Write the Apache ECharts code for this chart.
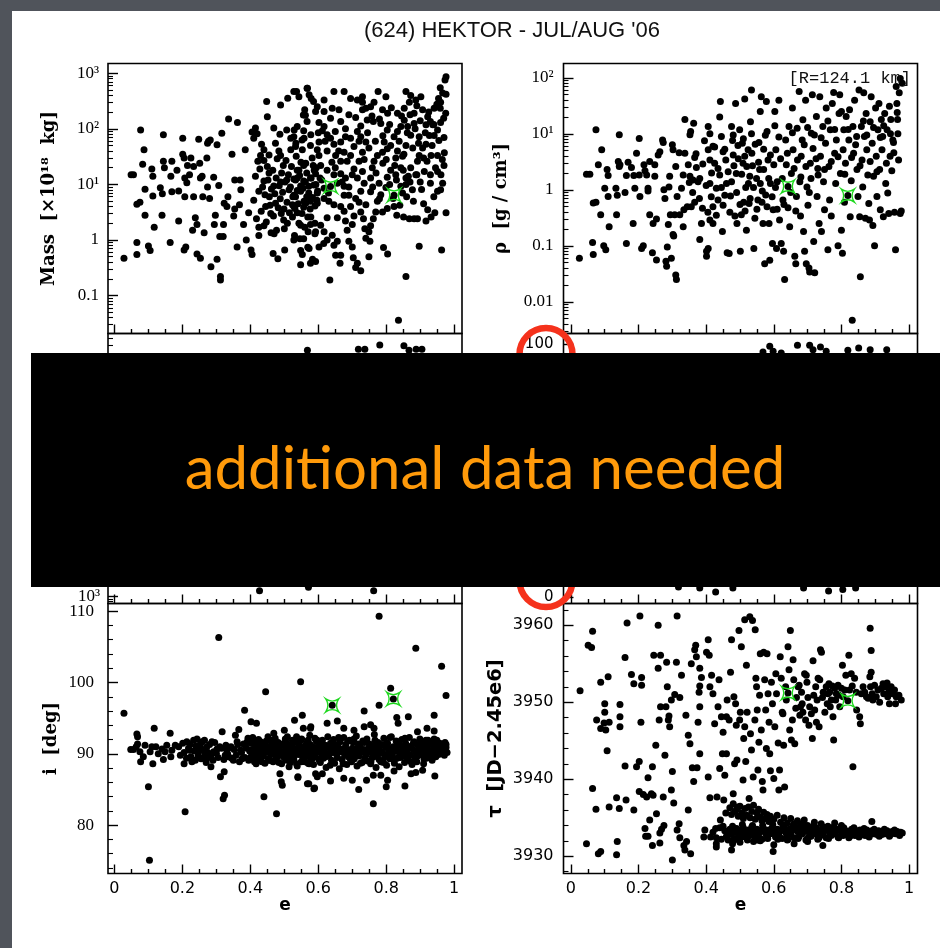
<!DOCTYPE html>
<html>
<head>
<meta charset="utf-8">
<title>(624) HEKTOR</title>
<style>
html,body{margin:0;padding:0;background:#50545b;}
#chart{width:940px;height:948px;}
</style>
<script src="https://cdn.jsdelivr.net/npm/echarts@6/dist/echarts.min.js"></script>
</head>
<body>
<div id="chart"></div>
<script>
// x ticks (shared by every panel)
const eMajor=[0,0.2,0.4,0.6,0.8,1];
const eMinor=[0.05,0.1,0.15,0.25,0.3,0.35,0.45,0.5,0.55,0.65,0.7,0.75,0.85,0.9,0.95];

// y ticks
const massTickExp=[-1,0,1,2,3];
const massTickText=['0.1','1','10¹','10²','10³'];
const rhoTickExp=[-2,-1,0,1,2];
const rhoTickText=['0.01','0.1','1','10¹','10²'];
const midLTickExp=[3,4,5,6,7];
const midLTickText=['10³','10⁴','10⁵','10⁶','10⁷'];
const midRTicks=[0,20,40,60,80,100];
const incTicks=[80,90,100,110];
const incMinor=[74,76,78,82,84,86,88,92,94,96,98,102,104,106,108];
const tauTicks=[3930,3940,3950,3960];
const tauMinor=[3928,3932,3934,3936,3938,3942,3944,3946,3948,3952,3954,3956,3958,3962];

// [e, mass x1e18 kg]
const massPts=[
[0.028,0.47],[0.049,15],[0.056,15],[0.066,4.4],[0.075,4.8],[0.066,0.9],[0.066,0.55],[0.077,95],[0.087,42],[0.083,23],[0.09,8.2],[0.09,2.8],[0.1,0.78],[0.105,0.65],[0.11,19],[0.113,14],[0.113,6.2],[0.117,1.7],[0.135,8.7],[0.141,6.8],[0.144,26],[0.147,20],[0.144,78],[0.14,2.8],[0.164,0.9],[0.166,14],[0.169,26],[0.169,7.4],[0.189,7.6],[0.189,2.2],[0.184,18],[0.201,68],[0.201,35],[0.205,30],[0.205,0.66],[0.21,0.75],[0.207,13],[0.213,10.7],[0.207,6],[0.215,22],[0.221,15],[0.225,30],[0.233,21],[0.233,6],[0.238,2.5],[0.23,1.5],[0.243,1.9],[0.248,65],[0.251,24],[0.253,13],[0.243,0.56],[0.253,0.47],[0.258,14],[0.26,6],[0.264,1.35],[0.272,30],[0.277,60],[0.274,9],[0.274,55],[0.282,63],[0.28,5.6],[0.292,13.5],[0.284,0.33],[0.297,2.8],[0.294,1.9],[0.302,0.45],[0.302,52],[0.307,9.6],[0.31,1.15],[0.312,0.22],[0.312,0.19],[0.32,1.15],[0.316,83],[0.321,1.9],[0.323,4.6],[0.331,4],[0.336,150],[0.334,6],[0.346,35],[0.351,2.7],[0.354,3.6],[0.362,130],[0.354,12],[0.361,0.75],[0.37,12],[0.368,4.3],[0.372,8],[0.38,1.9],[0.385,42],[0.388,1],[0.395,3.1],[0.405,88],[0.402,0.66],[0.405,0.55],[0.41,68],[0.415,104],[0.42,82],[0.422,26],[0.425,1.7],[0.425,1.2],[0.43,33],[0.433,53],[0.44,42],[0.44,11.5],[0.445,4],[0.45,165],[0.448,310],[0.45,21],[0.455,16],[0.456,6],[0.46,3],[0.461,1.35],[0.467,0.57],[0.469,9.4],[0.469,104],[0.474,55],[0.474,4.6],[0.477,1.5],[0.481,0.46],[0.489,270],[0.487,80],[0.484,40],[0.489,33],[0.489,11],[0.491,3],[0.497,22],[0.499,3.6],[0.501,0.66],[0.507,95],[0.507,12],[0.509,2],[0.51,355],[0.514,8],[0.519,68],[0.519,42],[0.524,4.3],[0.524,2.6],[0.529,95],[0.534,55],[0.533,6],[0.536,470],[0.538,13],[0.543,18],[0.543,2],[0.546,1.05],[0.548,9.4],[0.553,42],[0.553,0.55],[0.556,178],[0.56,220],[0.558,68],[0.563,24],[0.563,4.6],[0.568,540],[0.566,6],[0.57,1.4],[0.573,410],[0.573,0.7],[0.578,2.6],[0.578,78],[0.583,0.45],[0.586,310],[0.588,18],[0.59,2],[0.593,10],[0.596,5.2],[0.597,42],[0.602,0.75],[0.602,130],[0.605,13],
[0.41,5.2],[0.415,14],[0.418,2.4],[0.425,7.5],[0.428,19],[0.432,3.3],[0.436,9],[0.44,27],[0.443,6.5],[0.447,2.1],[0.452,12],[0.455,34],[0.458,4.2],[0.462,8.3],[0.466,18],[0.468,2.7],[0.472,6.8],[0.476,13],[0.479,29],[0.482,3.8],[0.485,9.5],[0.488,5.5],[0.492,16],[0.495,7.2],[0.498,2.3],[0.502,11],[0.505,27],[0.508,4.8],[0.512,15],[0.515,3.1],[0.518,9],[0.521,21],[0.525,6],[0.528,12.5],[0.531,3.7],[0.535,32],[0.538,7.8],[0.541,4.5],[0.545,14.5],[0.549,25],[0.552,3],[0.555,8.5],[0.558,5],[0.562,11],[0.566,16],[0.569,2.6],[0.572,7],[0.576,3.6],[0.579,13],[0.583,5.8],[0.587,9.8],[0.59,4.1],[0.594,20],[0.598,7.6],[0.44,1.8],[0.47,1.3],[0.5,1.6],[0.53,1.2],[0.56,1.7],[0.59,1.3],
[0.976,870],[0.973,760],[0.959,550],[0.966,440],[0.976,420],[0.954,350],[0.949,276],[0.941,235],[0.959,235],[0.969,155],[0.922,165],[0.93,135],[0.937,118],[0.917,118],[0.951,95],[0.941,76],[0.927,76],[0.917,53],[0.907,45],[0.897,33],[0.932,33],[0.951,33],[0.971,37],[0.92,26],[0.951,17],[0.961,15],[0.966,10.5],[0.951,7.5],[0.93,10.5],[0.912,17],[0.904,8.1],[0.892,26],[0.887,15],[0.872,20],[0.865,14],[0.858,10],[0.877,8],[0.922,3.5],[0.943,3.1],[0.976,3.1],[0.932,2.6],[0.917,2.2],[0.897,0.77],[0.963,0.66],[0.858,0.22],[0.836,0.036],[0.892,2.4],[0.882,2.4],[0.868,2.4],[0.851,2.6],[0.831,2.8],[0.823,4],[0.803,3.7],[0.789,3.2],[0.848,7],[0.843,9.3],[0.858,13],[0.843,20],[0.828,15],[0.813,18],[0.803,13.5],[0.799,8.8],[0.779,10.5],[0.784,6.5],[0.774,5],[0.769,3.2],[0.762,2.4],[0.754,1.8],[0.749,1.4],[0.752,0.95],[0.792,0.73],[0.804,0.56],[0.749,0.5],[0.74,1.07],[0.737,1.6],[0.733,2.4],[0.725,3.2],[0.74,4.3],[0.754,7.4],[0.754,13],[0.759,20],[0.764,26],[0.774,33],[0.789,38],[0.803,44],[0.813,50],[0.823,72],[0.833,90],[0.843,110],[0.853,143],[0.833,190],[0.804,190],[0.789,220],[0.853,235],[0.868,300],[0.858,470],[0.872,400],[0.887,330],[0.902,380],[0.907,220],[0.882,190],[0.882,125],[0.863,110],[0.872,77],[0.897,72],[0.858,50],[0.833,40],[0.848,32],[0.828,30],[0.776,470],[0.799,380],[0.764,300],[0.754,250],[0.73,380],[0.73,300],[0.74,235],[0.744,145],[0.725,113],[0.715,90],[0.725,72],[0.74,58],[0.749,45],[0.73,38],[0.705,48],[0.695,33],[0.72,26],[0.705,19],[0.715,13],[0.735,10.5],[0.725,7.5],[0.71,5.6],[0.695,4],[0.705,2.7],[0.7,1.9],[0.685,1.5],[0.69,0.95],[0.7,0.75],[0.703,0.48],[0.715,0.38],[0.725,0.28],[0.71,0.32],[0.664,0.38],[0.666,0.53],[0.634,0.19],[0.641,1.22],[0.626,1.0],[0.616,0.86],[0.646,0.8],[0.656,0.95],[0.651,0.53],[0.592,0.41],[0.577,0.38],[0.548,0.36],[0.548,0.65],[0.569,0.74],[0.557,1.05],[0.528,1.0],[0.592,1.4],[0.617,1.4],[0.607,1.85],[0.577,1.9],[0.548,1.85],[0.626,2.5],[0.656,2.5],[0.676,3.3],[0.68,2.2],[0.666,4],[0.646,4.3],[0.631,5],[0.617,5.6],[0.597,4.6],[0.577,5],[0.557,3.9],[0.538,3.1],[0.528,4],[0.528,6.4],[0.548,7.5],[0.572,9.3],[0.597,7],[0.617,8.5],[0.656,10.5],[0.676,9.3],[0.69,6.4],[0.676,6.4],[0.68,13],[0.666,15.5],[0.646,15],[0.626,18],[0.607,22],[0.592,15.5],[0.577,13],[0.557,11.5],[0.533,12],[0.538,18],[0.557,22],[0.582,30],[0.602,33],[0.626,40],[0.651,33],[0.676,38],[0.685,26],[0.666,26],[0.695,68],[0.68,72],[0.666,58],[0.646,53],[0.636,68],[0.617,110],[0.612,92],[0.626,78],[0.602,58],[0.577,50],[0.552,63],[0.533,48],[0.528,72],[0.557,92],[0.538,110],[0.567,135],[0.562,175],[0.592,205],[0.617,205],[0.636,155],[0.666,135],[0.661,220],[0.641,235],[0.617,330],[0.597,250],[0.567,540],[0.543,380],[0.528,470],[0.579,350],[0.646,470],[0.676,470],[0.695,350],[0.715,330],[0.73,220],[0.762,135],[0.784,125],[0.803,95],[0.794,58],
[0.71,160],[0.72,60],[0.735,28],[0.745,85],[0.758,170],[0.768,60],[0.78,150],[0.79,75],[0.8,28],[0.81,120],[0.815,240],[0.825,22],[0.838,60],[0.845,170],[0.852,35],[0.862,85],[0.87,180],[0.878,45],[0.885,100],[0.89,260],[0.895,55],[0.9,140],[0.91,30],[0.915,85],[0.925,200],[0.935,50],[0.94,120],[0.945,20],[0.955,62],[0.96,130],[0.965,28],[0.97,70],[0.975,190],[0.96,300],[0.68,100],[0.69,180],[0.65,90],[0.66,40],[0.64,25],[0.62,60],[0.6,85],[0.585,22],[0.61,12],[0.63,7],[0.65,20],[0.67,11],[0.69,9],[0.7,15],[0.72,4.8],[0.73,17],[0.76,9],[0.77,16],[0.78,5.5],[0.79,24],[0.81,10],[0.82,5.6],[0.83,12],[0.84,4.2],[0.85,18],[0.86,6],[0.87,11],[0.88,5],[0.89,15],[0.9,11],[0.91,4.5],[0.93,15],[0.94,6],[0.96,8],[0.97,22]
];
const massMarked=[[0.636,9.2],[0.823,6.4]];

// [e, density g/cm3]
const rhoPts=[
[0.025,0.06],[0.046,1.9],[0.056,1.9],[0.074,11.8],[0.091,5.2],[0.081,2.8],[0.066,0.58],[0.074,0.6],[0.088,0.36],[0.064,0.115],[0.066,0.07],[0.097,0.1],[0.103,0.085],[0.1,1.07],[0.11,0.76],[0.107,2.3],[0.11,1.8],[0.113,0.22],[0.133,1.07],[0.135,0.36],[0.143,9.6],[0.14,3.2],[0.145,2.8],[0.137,0.8],[0.143,2.6],[0.16,0.9],[0.164,0.11],[0.164,1.8],[0.169,3.1],[0.179,2.5],[0.184,0.25],[0.186,1.8],[0.189,1.07],[0.194,4.5],[0.202,8.3],[0.202,1.85],[0.209,0.09],[0.214,0.1],[0.204,0.76],[0.216,2.8],[0.219,2.2],[0.224,1.85],[0.233,3.2],[0.228,1.07],[0.228,0.95],[0.233,0.36],[0.243,0.25],[0.241,0.075],[0.248,1.75],[0.248,2.8],[0.253,0.056],[0.253,0.3],[0.258,4.2],[0.263,4.8],[0.271,7.8],[0.273,7.0],[0.275,1.0],[0.278,0.7],[0.281,0.053],[0.283,0.043],[0.285,0.095],[0.288,0.24],[0.29,1.12],[0.292,1.75],[0.294,0.36],[0.297,0.06],[0.3,6.4],[0.302,5.2],[0.302,0.16],[0.304,0.15],[0.31,0.03],[0.312,0.025],[0.307,0.36],[0.31,2.6],[0.314,0.76],[0.32,4.6],[0.322,0.36],[0.327,1.07],[0.332,1.85],[0.334,0.44],[0.337,18],[0.332,0.22],[0.337,4.5],[0.347,2.8],[0.344,0.5],[0.35,1.35],[0.352,1.75],[0.354,11],[0.352,9.6],[0.356,0.5],[0.361,1.5],[0.363,15.5],[0.366,3.8],[0.366,0.6],[0.371,2.5],[0.376,1.4],[0.381,1.6],[0.381,0.13],[0.386,0.25],[0.389,0.47],[0.401,0.065],[0.401,0.08],[0.406,0.09],[0.406,13.5],[0.411,10],[0.406,5.2],[0.411,3.4],[0.416,2.0],[0.411,1.3],[0.411,0.29],[0.42,0.5],[0.42,0.25],[0.42,6],[0.425,3],[0.43,1.07],[0.435,0.66],[0.44,1.85],[0.442,38],[0.44,20],[0.445,9],[0.448,0.18],[0.45,0.53],[0.455,5.3],[0.458,3.4],[0.46,1.3],[0.462,0.075],[0.468,0.073],[0.472,0.78],[0.475,13.5],[0.478,7.6],[0.48,4.2],[0.482,2.7],[0.485,0.34],[0.487,35],[0.489,1.95],[0.491,0.25],[0.494,6.2],[0.499,11.8],[0.501,0.08],[0.504,0.36],[0.507,6.8],[0.509,3],[0.511,0.6],[0.514,42],[0.514,4],[0.517,1.1],[0.519,0.19],[0.524,5.2],[0.527,0.57],[0.529,1.75],[0.531,16.5],[0.534,61],[0.534,10],[0.537,2.7],[0.541,0.09],[0.544,0.31],[0.549,1.6],[0.553,0.66],[0.556,7],[0.558,2.3],[0.56,25],[0.563,46],[0.566,0.95],[0.568,0.25],[0.57,5.3],[0.573,0.048],[0.576,0.81],[0.578,38],[0.58,11],[0.583,3.4],[0.586,0.25],[0.588,0.055],[0.59,1.3],[0.596,0.11],[0.598,0.44],[0.603,25],[0.603,14],[0.606,5.2],[0.608,0.09],[0.61,1.4],[0.615,40],[0.617,0.29],[0.622,0.11],[0.627,0.66],[0.629,0.08],[0.632,0.025],[0.635,7.8],[0.637,2.8],[0.642,0.48],[0.645,13.5],[0.647,0.22],[0.652,1.95],[0.655,29],[0.657,5.2],[0.662,0.065],[0.665,0.048],[0.667,0.76],[0.669,12.6],[0.675,57],[0.677,1.4],[0.679,0.34],[0.681,4],[0.684,7.8],[0.686,17.8],[0.688,0.18],[0.691,0.08],[0.694,40],[0.696,0.048],[0.698,1.12],[0.701,0.53],[0.704,0.04],[0.706,0.034],[0.708,3.0],[0.711,10.3],[0.714,50],[0.716,5.5],[0.718,0.12],[0.721,0.033],[0.726,20.5],[0.728,0.76],[0.731,1.85],[0.734,0.25],[0.736,46],[0.738,4],[0.741,0.18],[0.745,13.5],[0.747,1.4],[0.75,0.44],[0.753,6.8],[0.755,29],[0.76,0.085],[0.763,2.6],[0.765,0.66],[0.767,11.8],[0.77,0.34],[0.773,35],[0.777,55],[0.78,4.5],[0.783,1.3],[0.785,7.8],[0.79,0.1],[0.793,23],[0.795,50],[0.797,1.95],[0.8,0.19],[0.803,0.074],[0.805,5.2],[0.807,11.8],[0.809,0.6],[0.812,3.0],[0.814,20.5],[0.822,7.8],[0.824,27],[0.826,0.33],[0.829,1.45],[0.832,0.0047],[0.834,13.5],[0.836,4.5],[0.839,40],[0.842,6.4],[0.846,2.3],[0.849,0.76],[0.852,61],[0.854,0.33],[0.856,0.028],[0.859,13.5],[0.861,3.4],[0.863,1.12],[0.866,54],[0.868,9],[0.871,0.31],[0.873,23],[0.875,5.2],[0.878,1.85],[0.881,0.57],[0.883,0.29],[0.885,16.5],[0.888,46],[0.891,6.8],[0.893,0.23],[0.895,1.75],[0.898,0.1],[0.901,29],[0.903,4],[0.905,0.76],[0.908,11.8],[0.911,35],[0.913,2.3],[0.915,0.44],[0.918,18],[0.92,5.2],[0.922,9],[0.924,0.33],[0.928,23],[0.931,1.3],[0.933,3],[0.935,11.8],[0.937,0.88],[0.94,0.38],[0.942,31],[0.944,4],[0.946,18],[0.949,2.2],[0.952,7.8],[0.954,7],[0.957,0.4],[0.96,0.085],[0.962,70],[0.964,35],[0.966,18],[0.969,3.4],[0.971,54],[0.974,98],[0.977,0.42],[0.98,80],[0.974,0.38],[0.967,10],
[0.36,0.9],[0.37,4.4],[0.38,0.7],[0.39,2.9],[0.395,7.5],[0.4,1.2],[0.405,0.4],[0.415,0.75],[0.425,5.8],[0.43,0.35],[0.435,2.4],[0.445,1.1],[0.45,4.8],[0.455,0.8],[0.465,2.1],[0.47,0.4],[0.475,1.4],[0.48,9.5],[0.49,0.9],[0.495,3.6],[0.5,0.55],[0.505,1.9],[0.51,8.2],[0.515,0.42],[0.52,2.6],[0.525,1.3],[0.53,0.7],[0.535,4.5],[0.54,1.1],[0.545,6.5],[0.55,0.45],[0.555,3.1],[0.56,1.3],[0.565,0.6],[0.57,2.3],[0.575,9.4],[0.58,0.5],[0.585,1.6],[0.59,4.2],[0.595,0.75],[0.6,2.8],[0.605,1.1],[0.61,0.45],[0.615,8.8],[0.62,3.6],[0.625,1.6],[0.63,0.55],[0.64,4.5],[0.65,0.9],[0.655,10.5],[0.66,2.4],[0.665,0.42],[0.67,3.4],[0.68,1.7],[0.69,6.4],[0.695,2.6],[0.7,13],[0.705,0.9],[0.71,1.6],[0.72,9.5],[0.725,3.6],[0.73,2.4],[0.74,8.5],[0.75,2.3],[0.76,17],[0.77,3.2],[0.78,12],[0.79,3.9],[0.8,25],[0.81,1.9],[0.82,12],[0.83,3.8],[0.845,9],[0.855,2.7],[0.865,17],[0.875,9.5],[0.885,3.2],[0.895,13],[0.905,2.1],[0.915,8.6],[0.925,14],[0.945,10],[0.955,4.6],[0.965,24]
];
const rhoMarked=[[0.642,1.15],[0.819,0.79]];

// hidden middle panels: only the strips outside the banner can be read
const midLeftPts=[[0.568,2.4e7],[0.718,2.5e7],[0.737,2.5e7],[0.781,3.0e7],[0.852,2.9e7],[0.867,2.4e7],[0.888,2.5e7],[0.905,2.5e7],[0.427,1250],[0.571,1450],[0.763,1250]];
const midRightPts=[[0.588,99.1],[0.568,96.8],[0.598,97.1],[0.622,96.4],[0.67,99.5],[0.706,99.5],[0.716,97.7],[0.738,98.8],[0.755,97.1],[0.819,97.5],[0.851,98.4],[0.885,97.7],[0.934,97.7],[0.318,4],[0.381,3.6],[0.428,2],[0.479,3.6],[0.688,3.6],[0.762,2.4],[0.804,3],[0.842,3.6]];

// [e, inclination deg]
const incPts=[
[0.028,95.7],[0.048,90.6],[0.056,90.6],[0.064,91],[0.068,91.4],[0.066,92.8],[0.068,92.4],[0.075,90.3],[0.077,88.9],[0.085,89.6],[0.09,91.2],[0.1,85.4],[0.103,75.1],[0.105,90.3],[0.11,91],[0.113,88.6],[0.117,93.6],[0.122,91],[0.129,90],[0.14,90.7],[0.144,89.2],[0.149,90.3],[0.154,91.2],[0.164,92.9],[0.169,90.5],[0.166,89.6],[0.179,91.2],[0.189,91],[0.194,89.8],[0.201,91.5],[0.205,88.6],[0.208,81.9],[0.213,91.7],[0.221,90.5],[0.225,89.6],[0.233,91.9],[0.238,89.1],[0.243,92.1],[0.248,90.3],[0.253,91.4],[0.258,91.7],[0.264,89.6],[0.267,90.1],[0.272,91],[0.277,89.5],[0.284,88.2],[0.287,91.7],[0.292,90.3],[0.302,90.7],[0.307,106.3],[0.31,91],[0.312,86.8],[0.317,93.1],[0.32,83.7],[0.324,84.2],[0.323,87.5],[0.326,89.8],[0.331,90.5],[0.336,89.6],[0.343,91],[0.35,89.1],[0.356,92.6],[0.361,91.7],[0.366,93.4],[0.371,90.5],[0.376,89.3],[0.383,96.1],[0.386,91],[0.391,91.7],[0.395,89.1],[0.402,94.5],[0.405,90],[0.408,90.5],[0.412,88.9],[0.418,94.3],[0.42,91.2],[0.425,89.6],[0.43,91.7],[0.435,90.3],[0.44,84],[0.445,98.7],[0.45,91],[0.455,89.1],[0.46,91.9],[0.464,90],[0.469,92.9],[0.474,91],[0.477,81.6],[0.479,89.6],[0.484,91.2],[0.487,87.2],[0.491,86.1],[0.494,85.6],[0.497,90.3],[0.5,93.3],[0.504,91.7],[0.507,89.1],[0.51,90.5],[0.514,88.2],[0.519,91],[0.524,91.9],[0.529,89.8],[0.53,94.7],[0.536,92.4],[0.54,86.8],[0.543,91],[0.548,100.1],[0.55,88.9],[0.553,95.4],[0.556,93.6],[0.558,90],[0.563,91.2],[0.568,85.8],[0.57,91.9],[0.573,88.6],[0.578,93.8],[0.583,90.3],[0.587,85.1],[0.592,87.2],[0.597,91.9],[0.602,89.3],
[0.779,109.3],[0.887,104.8],[0.963,102.3],[0.976,98.2],[0.813,99.2],[0.779,96.8],[0.735,96],[0.626,94.3],[0.656,94.6],[0.865,95.2],[0.941,95.4],[0.831,95.1],[0.835,94.3],[0.754,94.1],[0.92,93.6],[0.941,93.2],[0.941,92.1],[0.577,93.6],[0.675,93.6],[0.705,93.3],[0.764,93.6],[0.892,93.1],[0.735,93.8],[0.762,83],[0.719,85],[0.589,85.2],[0.572,85.8],[0.54,86.7],[0.636,86.2],[0.675,86.6],[0.7,86.3],[0.742,86.3],[0.762,87],[0.8,85.4],[0.804,86.3],[0.855,85.5],[0.943,86.9],[0.873,87.2],[0.887,87.4],[0.907,87.7],[0.597,86.8],[0.612,87.2],[0.784,87],[0.823,87.6],
[0.205,90.2],[0.212,89.4],[0.218,90.8],[0.223,91.3],[0.228,88.9],[0.235,90.4],[0.24,91.1],[0.246,89.7],[0.25,90.9],[0.255,89.3],[0.26,90.6],[0.265,91.9],[0.27,88.8],[0.275,90.2],[0.28,91.3],[0.285,89.9],[0.29,89.1],[0.295,91.6],[0.3,90.1],[0.305,89.5],[0.315,90.8],[0.322,89.2],[0.328,91.2],[0.333,90],[0.34,90.9],[0.345,89.4],[0.352,90.6],[0.358,89.8],[0.363,91.3],[0.368,88.9],[0.374,90.2],[0.38,91.4],[0.384,89.5],[0.389,90.8],[0.393,92.2],[0.398,90.4],
[0.402,89.6],[0.404,91.5],[0.407,92.3],[0.41,89.9],[0.414,90.9],[0.417,88.6],[0.421,90.4],[0.424,92],[0.427,89.2],[0.431,90.6],[0.433,91.4],[0.437,89.7],[0.441,90.9],[0.443,88.7],[0.447,91.8],[0.451,90.3],[0.453,89.3],[0.457,90.8],[0.461,89.9],[0.463,91.3],[0.467,88.9],[0.471,90.5],[0.473,92.2],[0.476,89.5],[0.48,90.9],[0.482,91.6],[0.486,89.9],[0.489,90.4],[0.492,88.6],[0.495,91.4],[0.498,90.1],[0.502,89.4],[0.505,90.8],[0.509,92.4],[0.512,89.8],[0.515,91.1],[0.518,88.8],[0.521,90.3],[0.526,90.9],[0.528,89.2],[0.532,91.7],[0.535,90.4],[0.538,88.3],[0.541,89.9],[0.545,91.2],[0.547,90.1],[0.551,92.1],[0.554,89.5],[0.557,90.7],[0.56,88.9],[0.562,90.3],[0.566,91.5],[0.569,89.7],[0.572,90.6],[0.575,92.6],[0.577,89.1],[0.58,91.1],[0.582,90.2],[0.586,88.5],[0.589,90.9],[0.591,89.6],[0.594,91.8],[0.599,90.4],[0.601,91.3],[0.604,90.7],[0.606,88.8],[0.609,90.1],[0.612,91.9],[0.615,89.4],[0.617,90.6],[0.62,91.2],[0.623,88.1],[0.625,90],[0.628,92.4],[0.631,89.7],[0.634,90.8],[0.636,91.5],[0.639,89.1],[0.642,90.5],[0.645,92],[0.648,88.7],[0.65,90.2],[0.653,91.1],[0.656,89.5],[0.659,90.9],[0.662,87.9],[0.664,91.7],[0.667,90.3],[0.67,89.2],[0.672,90.7],[0.675,92.3],[0.678,89.8],[0.681,91.3],[0.684,88.5],[0.686,90.5],[0.689,89.6],[0.692,91.9],[0.695,90.1],[0.698,88.9],[0.7,90.8],[0.703,91.6],[0.706,89.3],[0.709,90.4],[0.712,92.5],[0.714,88.3],[0.717,90.9],[0.72,89.7],[0.723,91.2],[0.726,90.2],[0.729,88.8],[0.731,91.8],[0.734,90.6],[0.737,89.4],[0.74,90.1],[0.743,92.1],[0.745,89],[0.748,90.7],[0.751,91.4],[0.754,88.6],[0.757,90.3],[0.759,89.5],[0.762,91.1],[0.765,92.7],[0.768,90],[0.77,88.1],[0.773,90.8],[0.776,91.6],[0.779,89.2],[0.782,90.4],[0.784,88.9],[0.787,91.3],[0.79,90.1],[0.793,92.2],[0.796,89.6],[0.798,90.9],[0.801,88.4],[0.804,91.5],[0.807,90.2],[0.81,89.3],[0.812,90.7],[0.815,92.4],[0.818,89.9],[0.821,91],[0.824,88.7],[0.826,90.5],[0.829,91.8],[0.832,89.4],[0.835,90.3],[0.838,88.2],[0.84,91.2],[0.843,90],[0.846,92],[0.849,89.7],[0.851,90.8],[0.854,88.8],[0.857,91.5],[0.86,90.4],[0.863,89.2],[0.865,90.9],[0.868,92.3],[0.871,89.8],[0.874,91.1],[0.876,88.5],[0.879,90.6],[0.882,91.7],[0.885,89.5],[0.888,90.2],[0.89,88.9],[0.893,91.3],[0.896,90.7],[0.899,92.1],[0.901,89.9],[0.904,90.4],[0.907,91.6],[0.91,88.6],[0.912,90.1],[0.915,91.1],[0.918,89.4],[0.921,90.8],[0.923,91.9],[0.926,89.7],[0.929,90.3],[0.932,91.4],[0.935,89.1],[0.937,90.6],[0.94,91.8],[0.943,90.1],[0.946,89.6],[0.948,91.2],[0.951,90.4],[0.954,89.9],[0.957,91.5],[0.96,90.7],[0.962,90.1],[0.965,91.1],[0.968,90.4],[0.971,89.8],[0.973,91.6],[0.976,90.9],[0.979,90.2],[0.976,91.3],[0.97,90.6],
[0.405,90.6],[0.412,91.8],[0.419,89.5],[0.426,90.9],[0.434,88.9],[0.439,91.1],[0.446,90.2],[0.452,92.4],[0.458,89.1],[0.465,90.7],[0.47,91.7],[0.477,90.1],[0.484,88.8],[0.49,91.2],[0.497,89.6],[0.503,92.1],[0.51,90.5],[0.516,89.3],[0.523,91.5],[0.53,90.2],[0.536,88.6],[0.543,90.8],[0.549,91.9],[0.556,89.9],[0.563,90.4],[0.57,88.7],[0.576,91.3],[0.583,89.4],[0.59,92.2],[0.596,90.3],[0.603,89.1],[0.61,91.6],[0.616,90.9],[0.622,89.6],[0.629,91.1],[0.635,88.4],[0.641,90.2],[0.647,91.4],[0.654,89.9],[0.66,92.3],[0.666,90.6],[0.673,88.6],[0.68,90.9],[0.687,91.8],[0.693,89.4],[0.699,90.2],[0.705,92.1],[0.711,89.8],[0.718,91.4],[0.724,88.7],[0.73,90.4],[0.736,91.6],[0.742,89.9],[0.749,90.9],[0.755,88.9],[0.761,90.1],[0.767,91.9],[0.774,89.6],[0.78,91.1],[0.786,90.3],[0.792,88.8],[0.799,91.4],[0.805,89.9],[0.811,92.3],[0.817,90.2],[0.823,89.1],[0.83,90.9],[0.836,91.7],[0.842,89.5],[0.848,90.6],[0.855,92.2],[0.861,89.9],[0.867,90.8],[0.873,88.9],[0.88,91.5],[0.886,90.4],[0.892,89.7],[0.898,91.1],[0.905,90.6],[0.911,89.3],[0.917,91.9],[0.924,90.2],[0.93,91.6],[0.936,89.9],[0.942,90.8],[0.949,91.9],[0.955,90.2],[0.961,91.4],[0.967,90.6],[0.974,90.3]
];
const incMarked=[[0.641,96.8],[0.821,97.7]];

// [e, tau JD-2.45e6]
const tauPts=[
[0.027,3951.5],[0.046,3931.6],[0.051,3957.4],[0.061,3957.1],[0.064,3959.2],[0.064,3938.8],[0.074,3936.1],[0.076,3947.7],[0.081,3930.3],[0.088,3930.6],[0.088,3952.6],[0.088,3946.6],[0.098,3947.3],[0.1,3949.8],[0.1,3948.7],[0.103,3946.4],[0.107,3943.7],[0.11,3953.3],[0.113,3947.4],[0.113,3936.4],[0.135,3937.6],[0.135,3930.2],[0.137,3931.9],[0.143,3936.2],[0.145,3949.7],[0.145,3948.1],[0.145,3946.8],[0.16,3955.8],[0.16,3941.7],[0.163,3937.3],[0.166,3960.3],[0.179,3953.6],[0.186,3952.4],[0.186,3936],[0.194,3941.6],[0.202,3942.3],[0.202,3938.4],[0.204,3961.2],[0.209,3953.2],[0.209,3952.2],[0.207,3947.4],[0.214,3938],[0.219,3933.6],[0.221,3932.6],[0.224,3937.7],[0.228,3940.2],[0.228,3932.6],[0.233,3934.7],[0.238,3938.1],[0.243,3937.9],[0.241,3931.4],[0.241,3941.6],[0.245,3956.1],[0.251,3944.4],[0.253,3935.5],[0.258,3960],[0.258,3954.4],[0.261,3947.7],[0.265,3956.1],[0.265,3949.4],[0.263,3933],[0.263,3931.7],[0.268,3933.5],[0.273,3937.7],[0.275,3934],[0.278,3943.1],[0.281,3949.4],[0.283,3955.2],[0.285,3952],[0.288,3947.7],[0.29,3948.2],[0.292,3946.8],[0.297,3950.3],[0.297,3938.6],[0.3,3941],[0.3,3929.5],[0.304,3936.9],[0.307,3951],[0.312,3955.2],[0.314,3961.2],[0.314,3933.4],[0.32,3934.2],[0.322,3950.6],[0.322,3932.4],[0.327,3953.5],[0.334,3931.4],[0.337,3930.8],[0.342,3931.9],[0.34,3948.3],[0.347,3945.7],[0.347,3936],[0.352,3944.6],[0.354,3930.3],[0.356,3955],[0.359,3941.5],[0.363,3939.7],[0.366,3956.8],[0.369,3957.4],[0.371,3955.9],[0.373,3941.5],[0.376,3947.4],[0.379,3951.3],[0.381,3954.4],[0.381,3952.1],[0.381,3949.4],[0.381,3943.3],[0.386,3953.2],[0.393,3932.5],[0.396,3933.4],[0.401,3956.5],[0.406,3958.1],[0.406,3940.3],[0.409,3956.1],[0.411,3952],[0.411,3937.6],[0.413,3932.5],[0.416,3953.5],[0.42,3951.1],[0.425,3947.2],[0.428,3933.6],[0.43,3931.6],[0.432,3937.7],[0.435,3949.4],[0.438,3952.9],[0.44,3941.4],[0.442,3934.7],[0.445,3948.1],[0.448,3943.3],[0.45,3946.1],[0.452,3937.3],[0.455,3940.5],[0.458,3935.6],[0.46,3943.3],[0.46,3948.1],[0.462,3950.3],[0.465,3932.9],[0.468,3947.7],[0.472,3953.9],[0.475,3958.1],[0.475,3930.8],[0.478,3931.6],[0.48,3938.1],[0.482,3950.7],[0.484,3942],[0.487,3949.8],[0.489,3947],[0.491,3942.5],[0.494,3936.4],[0.497,3959.3],[0.499,3947.7],[0.501,3948.7],[0.504,3957.2],[0.509,3939.9],[0.511,3945.3],[0.514,3960.7],[0.514,3946.8],[0.517,3942.3],[0.519,3954.8],[0.521,3948.7],[0.527,3937.5],[0.529,3961.1],[0.531,3945.9],[0.534,3943.8],[0.537,3960.6],[0.539,3940.3],[0.544,3947.7],[0.545,3959.4],[0.547,3953.1],[0.549,3952],[0.551,3949],[0.553,3941.2],[0.556,3944.8],[0.558,3950.9],[0.56,3956.3],[0.563,3946.4],[0.566,3939.7],[0.568,3938.6],[0.57,3956.5],[0.573,3952.9],[0.576,3949],[0.578,3944],[0.58,3956.3],[0.583,3951.1],[0.586,3947.4],[0.588,3943.3],[0.59,3941.1],[0.593,3952.6],[0.596,3949.8],[0.598,3930.6],[0.6,3940.1],[0.603,3946.8],[0.606,3953.7],[0.608,3951.1],[0.613,3944.7],[0.615,3938.6],[0.617,3941.2],[0.619,3955.9],[0.622,3953.1],[0.625,3948.7],[0.627,3948.5],[0.629,3944.4],[0.632,3939],[0.635,3952],[0.637,3950.3],[0.642,3957.2],[0.645,3954.2],[0.647,3946.4],[0.649,3959.3],[0.652,3945.1],[0.655,3947.7],[0.657,3955.5],[0.659,3952.9],[0.662,3944.6],[0.665,3949.2],[0.667,3950.6],[0.672,3952],[0.675,3952.2],[0.677,3948.3],[0.679,3949.4],[0.682,3951.3],[0.684,3949.8],[0.686,3948.7],[0.691,3953.7],[0.694,3947.7],[0.696,3953.5],[0.698,3952.6],[0.701,3950.6],[0.704,3947],[0.706,3949.4],[0.711,3948.5],[0.714,3945.3],[0.716,3955.4],[0.718,3950.9],[0.721,3949],[0.724,3952],[0.726,3947.4],[0.728,3950.3],[0.731,3953.1],[0.734,3946.8],[0.736,3952.9],[0.738,3956.8],[0.741,3956.5],[0.744,3950.6],[0.746,3951.3],[0.751,3948.7],[0.755,3952],[0.758,3949.8],[0.76,3951.1],[0.763,3952.4],[0.765,3951.3],[0.767,3949.4],[0.77,3950.3],[0.773,3952.1],[0.775,3948.1],[0.777,3945.1],[0.78,3951.8],[0.783,3950.3],[0.785,3951.1],[0.79,3952.2],[0.793,3950.9],[0.795,3949.4],[0.8,3951.8],[0.803,3954.8],[0.805,3950.7],[0.81,3951.6],[0.813,3953.5],[0.822,3956.1],[0.824,3951.6],[0.829,3953.7],[0.832,3952.1],[0.834,3941.6],[0.839,3953.1],[0.844,3951.3],[0.845,3949],[0.854,3948.1],[0.856,3947.2],[0.859,3951.1],[0.864,3952],[0.869,3951.3],[0.874,3950.7],[0.879,3950.5],[0.884,3953.3],[0.886,3952],[0.885,3959.6],[0.888,3956.7],[0.888,3953.9],[0.891,3951.1],[0.893,3950.3],[0.898,3952.2],[0.903,3950.7],[0.908,3951.6],[0.913,3950],[0.918,3951.8],[0.923,3952.4],[0.925,3951.1],[0.931,3952],[0.935,3952.5],[0.937,3950.7],[0.94,3951.3],[0.942,3949.8],[0.947,3952],[0.952,3951.1],[0.957,3951.6],[0.96,3949.8],[0.962,3950.7],[0.97,3950.9],[0.977,3950.3],
[0.47,3936.3],[0.475,3935.4],[0.48,3936.8],[0.485,3935.8],[0.49,3936.1],[0.495,3935.2],[0.5,3936.5],[0.505,3935.6],[0.51,3934.9],[0.515,3936.2],[0.52,3935.3],[0.525,3936.4],[0.53,3935],[0.535,3935.8],[0.54,3936.6],[0.545,3934.8],[0.55,3935.6],[0.555,3936.1],[0.56,3935.1],[0.565,3934.6],[0.57,3935.7],[0.575,3934.9],[0.58,3935.4],[0.585,3934.5],[0.59,3935.2],[0.6,3934.8],[0.61,3935.3],[0.62,3934.4],[0.63,3935],[0.64,3934.3],[0.65,3934.9],[0.66,3934.2],[0.67,3934.6],[0.68,3934.1],[0.69,3934.7],[0.7,3934],[0.72,3934.4],[0.74,3934.2],[0.76,3933.9],[0.78,3934.3],[0.8,3934],[0.89,3934.5],
[0.42,3933.1],[0.43,3932.4],[0.44,3933.7],[0.445,3932.2],[0.455,3933.3],[0.46,3932.6],[0.47,3933.5],[0.475,3932.8],[0.48,3933.2],[0.485,3932.3],[0.49,3933.6],[0.495,3932.9],[0.5,3933.3],[0.505,3932.5],[0.51,3933.7],[0.515,3933],[0.52,3932.4],[0.525,3933.4],[0.53,3932.7],[0.535,3933.8],[0.54,3933.1],[0.545,3932.5],[0.55,3933.5],[0.555,3932.8],[0.56,3933.3],[0.565,3932.2],[0.57,3933.6],[0.575,3933],[0.58,3932.6],[0.585,3933.4],[0.59,3932.9],[0.595,3933.7],[0.6,3933.2],[0.605,3932.5],[0.61,3933.5],[0.615,3932.9],[0.62,3933.3],[0.625,3932.3],[0.63,3933.7],[0.635,3933.1],[0.64,3932.7],[0.645,3933.5],[0.65,3932.9],[0.655,3933.4],[0.66,3932.4],[0.665,3933.8],[0.67,3933.2],[0.675,3932.6],[0.68,3933.5],[0.685,3932.9],[0.69,3933.3],[0.695,3932.1],[0.7,3933.6],[0.705,3933],[0.71,3932.6],[0.715,3933.4],[0.72,3932.9],[0.725,3933.7],[0.73,3933.1],[0.735,3932.5],[0.74,3933.4],[0.745,3932.8],[0.75,3933.3],[0.755,3932.4],[0.76,3933.6],[0.765,3933],[0.77,3932.7],[0.775,3933.5],[0.78,3932.9],[0.785,3933.3],[0.79,3932.5],[0.795,3933.6],[0.8,3933.1],[0.805,3932.7],[0.81,3933.4],[0.815,3932.9],[0.82,3933.2],[0.825,3932.6],[0.83,3933.5],[0.835,3933],[0.84,3932.7],[0.845,3933.3],[0.85,3932.9],[0.855,3933.4],[0.86,3932.8],[0.865,3933.2],[0.87,3932.7],[0.875,3933.4],[0.88,3933],[0.885,3932.8],[0.89,3933.3],[0.895,3932.9],[0.9,3933.2],[0.905,3932.8],[0.91,3933.3],[0.915,3933],[0.92,3932.8],[0.925,3933.2],[0.93,3932.9],[0.935,3933.3],[0.94,3933],[0.945,3932.8],[0.95,3933.2],[0.955,3933],[0.96,3932.9],[0.965,3933.2],[0.97,3933],[0.975,3933.1],[0.98,3933],
[0.43,3931.2],[0.5,3931.8],[0.56,3932],[0.6,3931.5],[0.64,3932.1],[0.7,3931.9],[0.73,3932.2],[0.66,3931.6],[0.48,3932],[0.54,3931.9],[0.745,3931.4],
[0.45,3933.9],[0.465,3932.1],[0.478,3933.9],[0.492,3932.2],[0.507,3934.1],[0.522,3932.1],[0.537,3934],[0.552,3932.1],[0.567,3934],[0.582,3932.3],[0.597,3934.1],[0.612,3932.2],[0.627,3933.9],[0.642,3932.2],[0.657,3934],[0.672,3932.3],[0.687,3933.9],[0.702,3932.4],[0.717,3933.9],[0.732,3932.3],[0.747,3933.8],[0.762,3932.3],[0.777,3933.8],[0.792,3932.4],[0.807,3933.7],[0.822,3932.4],[0.837,3933.7],[0.852,3932.5],[0.867,3933.6],[0.882,3932.5],[0.897,3933.5],[0.912,3932.6],[0.927,3933.5],[0.942,3932.6],[0.957,3933.4],[0.972,3932.7]
];
const tauMarked=[[0.642,3951.2],[0.819,3950.2]];

function logMinor(lo,hi){
  const out=[];
  for(let n=Math.floor(lo);n<=Math.ceil(hi);n++){
    for(let k=2;k<=9;k++){const v=n+Math.log10(k); if(v>lo&&v<hi) out.push(v);}
  }
  return out;
}
const toLog=pts=>pts.map(p=>[p[0],Math.log10(p[1])]);
const fmtFrom=(vals,texts)=>v=>{const i=vals.indexOf(v); return i<0?'':texts[i];};

const xLeft=[-0.019,1.023], xRight=[-0.022,1.025];
const rows=[63.5,333.5,603.5];

const panels=[
  {left:108,top:rows[0],x:xLeft,y:[-1.683,3.176],major:massTickExp,minor:logMinor(-1.683,3.176),fmt:fmtFrom(massTickExp,massTickText),
   lab:{font:'Liberation Serif',size:17,margin:9},name:'Mass  [×10¹⁸  kg]',nameFont:'DejaVu Serif',nameSize:18,nameGap:50,data:toLog(massPts),marks:toLog(massMarked),xlab:false},
  {left:563.5,top:rows[0],x:xRight,y:[-2.566,2.257],major:rhoTickExp,minor:logMinor(-2.566,2.257),fmt:fmtFrom(rhoTickExp,rhoTickText),
   lab:{font:'Liberation Serif',size:17,margin:10},name:'ρ  [g / cm³]',nameFont:'DejaVu Serif',nameSize:18,nameGap:53,data:toLog(rhoPts),marks:toLog(rhoMarked),xlab:false},
  {left:108,top:rows[1],x:xLeft,y:[2.87,7.68],major:midLTickExp,minor:logMinor(2.87,7.68),fmt:fmtFrom(midLTickExp,midLTickText),
   lab:{font:'Liberation Serif',size:17,margin:8},name:'',nameFont:'DejaVu Serif',nameSize:18,nameGap:50,data:toLog(midLeftPts),marks:[],xlab:false},
  {left:563.5,top:rows[1],x:xRight,y:[-2.5,104.1],major:midRTicks,minor:[],fmt:v=>String(v),
   lab:{font:'DejaVu Sans',size:15,margin:10},name:'',nameFont:'DejaVu Sans',nameSize:18,nameGap:50,data:midRightPts,marks:[],xlab:false},
  {left:108,top:rows[2],x:xLeft,y:[73.23,111.08],major:incTicks,minor:incMinor,fmt:v=>String(v),
   lab:{font:'Liberation Serif',size:17,margin:14},name:'i  [deg]',nameFont:'DejaVu Serif',nameSize:18,nameGap:48,data:incPts,marks:incMarked,xlab:true},
  {left:563.5,top:rows[2],x:xRight,y:[3927.75,3962.82],major:tauTicks,minor:tauMinor,fmt:v=>String(v),
   lab:{font:'DejaVu Sans',size:16,margin:10},name:'τ  [JD−2.45e6]',nameFont:'DejaVu Sans',nameSize:19.5,nameGap:58,data:tauPts,marks:tauMarked,xlab:true}
];

const tickLine={color:'#000',width:1.4};
const star='path://M0,0 Q6,4.2 12,0 Q7.8,6 12,12 Q6,7.8 0,12 Q4.2,6 0,0 Z';
const dot={color:'#000',opacity:1};

const grid=[],xAxis=[],yAxis=[],series=[];
panels.forEach((p,g)=>{
  grid.push({left:p.left,top:p.top,width:354,height:270,show:true,borderColor:'#000',borderWidth:1.6,
    backgroundColor:'rgba(0,0,0,0)',containLabel:false,outerBoundsMode:'none'});
  const xb={type:'value',gridIndex:g,position:'bottom',min:p.x[0],max:p.x[1],
    axisLine:{show:false,onZero:false},splitLine:{show:false}};
  xAxis.push(Object.assign({},xb,{
    axisTick:{show:true,inside:true,length:9,customValues:eMajor,lineStyle:tickLine},
    axisLabel:{show:p.xlab,customValues:eMajor,margin:7,color:'#000',fontFamily:'DejaVu Sans',fontSize:16},
    name:p.xlab?'e':'',nameLocation:'middle',nameGap:23,
    nameTextStyle:{color:'#000',fontFamily:'DejaVu Sans',fontWeight:'bold',fontSize:17}
  }));
  xAxis.push(Object.assign({},xb,{
    axisTick:{show:true,inside:true,length:4.5,customValues:eMinor,lineStyle:tickLine},
    axisLabel:{show:false}
  }));
  const yb={type:'value',gridIndex:g,position:'left',min:p.y[0],max:p.y[1],
    axisLine:{show:false,onZero:false},splitLine:{show:false}};
  yAxis.push(Object.assign({},yb,{
    axisTick:{show:true,inside:true,length:10,customValues:p.major,lineStyle:tickLine},
    axisLabel:{customValues:p.major,margin:p.lab.margin,color:'#000',fontFamily:p.lab.font,fontSize:p.lab.size,formatter:p.fmt},
    name:p.name,nameLocation:'middle',nameGap:p.nameGap,
    nameTextStyle:{color:'#000',fontFamily:p.nameFont,fontWeight:'bold',fontSize:p.nameSize}
  }));
  yAxis.push(Object.assign({},yb,{
    axisTick:{show:p.minor.length>0,inside:true,length:5,customValues:p.minor,lineStyle:{color:'#000',width:1.1}},
    axisLabel:{show:false}
  }));
  series.push({type:'scatter',xAxisIndex:2*g,yAxisIndex:2*g,data:p.data,symbol:'circle',symbolSize:7,
    itemStyle:dot,silent:true,z:2});
  if(p.marks.length){
    series.push({type:'scatter',xAxisIndex:2*g,yAxisIndex:2*g,data:p.marks,symbol:'circle',symbolSize:7,
      itemStyle:dot,silent:true,z:3});
    series.push({type:'scatter',xAxisIndex:2*g,yAxisIndex:2*g,data:p.marks,symbol:star,symbolSize:13,
      itemStyle:{color:'rgba(0,0,0,0)',borderColor:'#1ed81e',borderWidth:1.4,opacity:1},silent:true,z:4});
  }
});

const chart=echarts.init(document.getElementById('chart'));
chart.setOption({
  backgroundColor:'#50545b',
  animation:false,
  grid:grid,xAxis:xAxis,yAxis:yAxis,series:series,
  graphic:[
    {type:'rect',shape:{x:12,y:11,width:928,height:937},style:{fill:'#ffffff'},z:-10,silent:true},
    {type:'text',x:512,y:31,z:5,style:{text:"(624) HEKTOR - JUL/AUG '06",fill:'#111',fontFamily:'Liberation Sans',fontSize:22,align:'center',verticalAlign:'middle'}},
    {type:'text',x:911,y:78.5,z:5,style:{text:'[R=124.1 km]',fill:'#111',fontFamily:'Liberation Mono',fontSize:17,align:'right',verticalAlign:'middle'}},
    {type:'rect',shape:{x:519.5,y:328,width:53,height:279,r:26.5},z:20,silent:true,style:{fill:'none',stroke:'#f5321c',lineWidth:6.5}},
    {type:'rect',shape:{x:31,y:353,width:909,height:234},z:30,silent:true,style:{fill:'#000'}},
    {type:'text',x:485,y:470,z:31,style:{text:'additional data needed',fill:'#ff9a0a',fontFamily:'Lato',fontSize:60,align:'center',verticalAlign:'middle'}}
  ]
});
</script>
</body>
</html>
